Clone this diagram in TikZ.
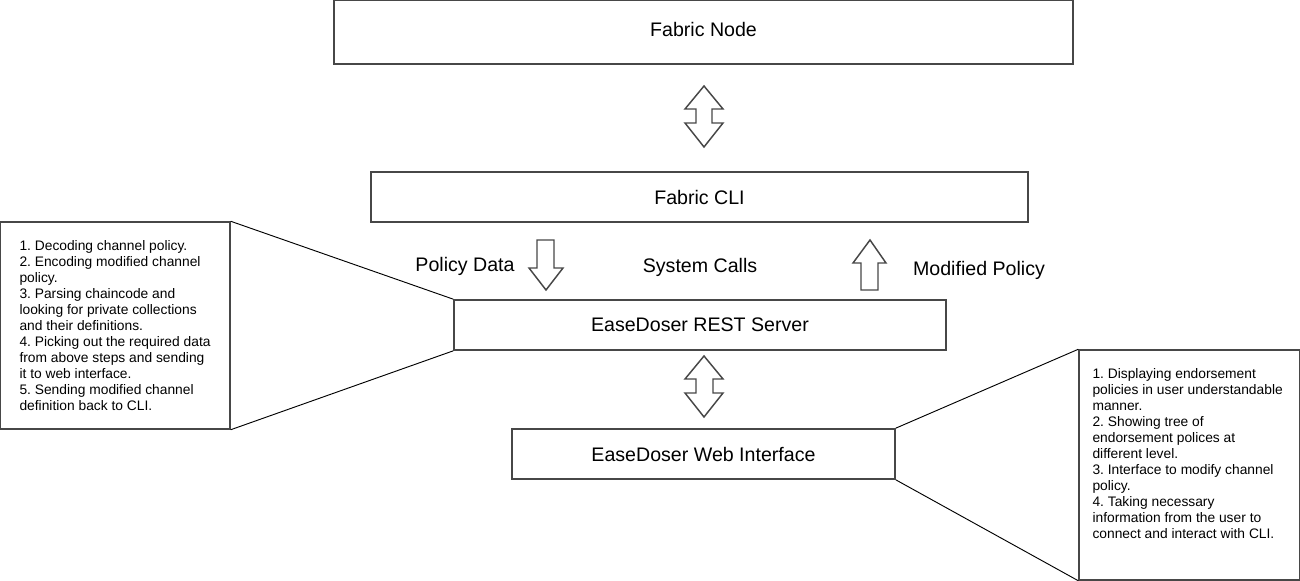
\documentclass[tikz,border=0pt]{standalone}
\usepackage{fontspec}
\setmainfont{Liberation Sans}
\usepackage{tikz}
\usetikzlibrary{positioning,calc}
\frenchspacing

\begin{document}
\begin{tikzpicture}[
    x=0.75pt, y=-0.75pt,
    block/.style={
        draw=black!72,
        line width=1.3pt,
        inner sep=0pt,
        font=\fontsize{14.7}{17}\selectfont
    },
    note/.style={
        draw=black!72,
        line width=1.1pt,
        inner sep=0pt
    },
    notetext/.style={
        inner sep=0pt,
        align=left,
        font=\fontsize{10.35}{12}\selectfont
    },
    hollow/.style={
        draw=black!72,
        line width=1.1pt,
        fill=white,
        line join=miter
    },
    callout/.style={
        black,
        line width=0.7pt
    },
    lbl/.style={
        font=\fontsize{14.7}{17}\selectfont
    }
]
\useasboundingbox (0,0) rectangle (1300,581);

%-------------------------------------------------
% Main blocks (sizes in pt, 1px = 0.75pt)
%-------------------------------------------------

\node[block,minimum width=554.25pt,minimum height=48pt,text depth=4.5pt] (fnode) at (703.5,32) {Fabric Node};
\node[block,minimum width=492.75pt,minimum height=37.5pt] (cli) at (699.5,197) {Fabric CLI};
\node[block,minimum width=369pt,minimum height=37.5pt] (rest) at (700,325) {EaseDoser REST Server};
\node[block,minimum width=287.25pt,minimum height=37.5pt] (web) at (703.5,454) {EaseDoser Web Interface};

%-------------------------------------------------
% Block arrows
%-------------------------------------------------

\draw[hollow] (704,86) -- (723,109) -- (712,109) -- (712,123) -- (723,123)
    -- (704,147) -- (685,123) -- (696,123) -- (696,109) -- (685,109) -- cycle;

\draw[hollow] (704,356) -- (723,379) -- (713,379) -- (713,393) -- (723,393)
    -- (704,417) -- (685,393) -- (696,393) -- (696,379) -- (685,379) -- cycle;

\draw[hollow] (537,240) -- (554,240) -- (554,268) -- (563,268) -- (546,290)
    -- (529,268) -- (537,268) -- cycle;

\draw[hollow] (870,240) -- (886,263) -- (878,263) -- (878,290) -- (861,290)
    -- (861,263) -- (853,263) -- cycle;

\node[lbl] (pdata) at (465,266) {Policy Data};
\node[lbl] (syscall) at (700,267) {System Calls};
\node[lbl] (modpol) at (979,270) {Modified Policy};

%-------------------------------------------------
% Notes
%-------------------------------------------------

\node[note,minimum width=172.5pt,minimum height=155.25pt] (lnote) at (115,325.5) {};
\node[notetext,below right=14.2pt and 15pt of lnote.north west] (ltext)
{1. Decoding channel policy.\\
2. Encoding modified channel\\
policy.\\
3. Parsing chaincode and\\
looking for private collections\\
and their definitions.\\
4. Picking out the required data\\
from above steps and sending\\
it to web interface.\\
5. Sending modified channel\\
definition back to CLI.};

\node[note,minimum width=165.75pt,minimum height=172.5pt] (rnote) at (1189.5,465) {};
\node[notetext,below right=14.2pt and 10.5pt of rnote.north west] (rtext)
{1. Displaying endorsement\\
policies in user understandable\\
manner.\\
2. Showing tree of\\
endorsement polices at\\
different level.\\
3. Interface to modify channel\\
policy.\\
4. Taking necessary\\
information from the user to\\
connect and interact with CLI.};

\draw[callout] (lnote.north east) -- (rest.north west);
\draw[callout] (lnote.south east) -- (rest.south west);
\draw[callout] (web.north east) -- (rnote.north west);
\draw[callout] (web.south east) -- (rnote.south west);

\end{tikzpicture}
\end{document}
